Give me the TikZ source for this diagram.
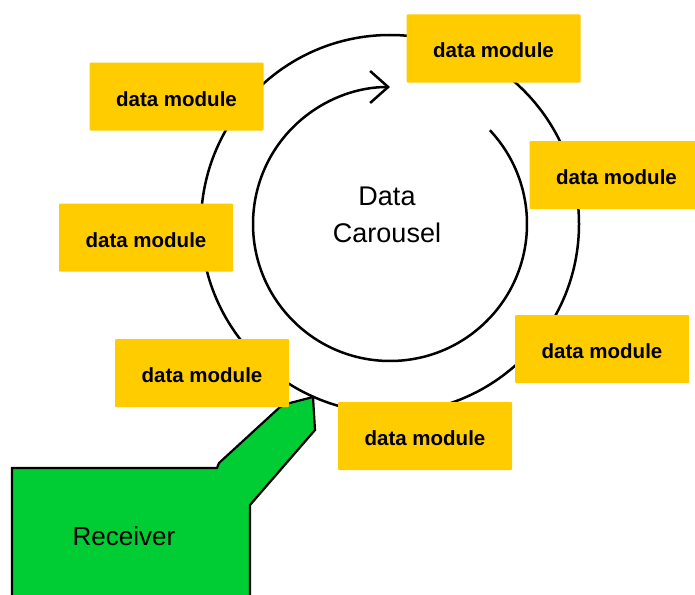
\documentclass[tikz,border=0pt]{standalone}
\usepackage{fontspec}
\setmainfont{Liberation Sans}
\usetikzlibrary{arrows.meta}
\definecolor{modfill}{RGB}{255,204,0}
\definecolor{rxfill}{RGB}{0,204,51}
\begin{document}
\begin{tikzpicture}[x=1pt,y=1pt,
  ring/.style={line width=2.5pt, draw=black},
  modbox/.style={fill=modfill, minimum width=174pt, minimum height=68pt,
    inner sep=0pt, rounded corners=1pt, text height=19pt, text depth=0pt,
    font=\bfseries\fontsize{20.5}{24}\selectfont},
  bigtext/.style={font=\fontsize{27}{32}\selectfont, anchor=base},
]
\useasboundingbox (0,0) rectangle (695,-594);
\clip (0,0) rectangle (695,-594);
\fill[white] (0,0) rectangle (695,-594);

% carousel rings
\coordinate (hub) at (390,-224);
\draw[ring] (hub) circle[radius=189];
\draw[ring, -{Straight Barb[length=18pt,width=32pt,line width=2.5pt]}]
  ([shift={(43.2:137)}]hub) arc[start angle=43.2, end angle=-270, radius=137];

\node[bigtext] (title1) at (387,-205) {Data};
\node[bigtext] (title2) at (387,-242) {Carousel};

% receiver
\draw[line width=2.2pt, fill=rxfill] (12,-600) -- (12,-468) -- (217,-468) -- (219,-463)
  -- (280,-407) -- (290,-403) -- (313,-397) -- (315,-430) -- (250,-505)
  -- (250,-600) -- cycle;
\node[font=\fontsize{26}{30}\selectfont, anchor=base] (rx) at (124,-545) {Receiver};

% data modules around the carousel
\node[modbox] (m1) at (493.5,-48.5) {data module};
\node[modbox] (m2) at (176.5,-96.5) {data module};
\node[modbox] (m3) at (146,-237.5) {data module};
\node[modbox] (m4) at (202,-373) {data module};
\node[modbox] (m5) at (425,-436) {data module};
\node[modbox] (m6) at (602,-349) {data module};
\node[modbox] (m7) at (616.5,-175) {data module};
\end{tikzpicture}
\end{document}
